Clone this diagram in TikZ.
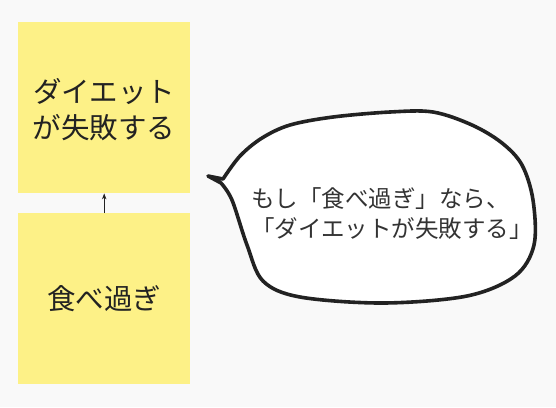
\documentclass[tikz,border=0pt]{standalone}
\usepackage{fontspec}
\setmainfont{Noto Sans CJK JP}
\usetikzlibrary{arrows.meta}
\definecolor{bgc}{HTML}{F9F9F9}
\definecolor{notey}{HTML}{FDF187}
\definecolor{inkc}{HTML}{222222}
\definecolor{txtc}{HTML}{333333}
\tikzset{
  sticky/.style={fill=notey, draw=none, minimum width=172bp, minimum height=171bp, inner sep=0pt, anchor=north west},
  notetext/.style={text=inkc, align=center, font=\fontsize{28.5bp}{36bp}\selectfont},
  bubbletxt/.style={text=txtc, align=left, anchor=west, inner sep=0pt, font=\fontsize{23.5bp}{30bp}\selectfont},
  link/.style={draw=inkc, line width=0.8bp, -{Stealth[length=6bp,width=4.5bp]}},
  bubble/.style={draw=inkc, line width=3.6bp, fill=white, line join=round}
}
\begin{document}
\begin{tikzpicture}[x=1bp,y=-1bp]
\useasboundingbox[fill=bgc] (0,0) rectangle (556,407);
\node[sticky] (up) at (18,22) {};
\node[notetext] (uptext) at ([yshift=-2bp]up.center) {ダイエット\\が失敗する};
\node[sticky] (low) at (18,213) {};
\node[notetext] (lowtext) at (low.center) {食べ過ぎ};
\draw[link] (low.north) -- (up.south);
\draw[bubble] (208,176) -- plot[smooth, tension=0.55] coordinates {(223,179) (240,156) (262,138) (290,125) (333,117) (390,112) (433,112) (472,125) (502,143) (522,165) (533,200) (534,245) (515,276) (467,296) (383,303) (300,297) (263,281) (247,245) (232,200) (221,183)} -- cycle;
\node[bubbletxt] (btext) at (251,214) {もし「食べ過ぎ」なら、\\「ダイエットが失敗する」};
\end{tikzpicture}
\end{document}
